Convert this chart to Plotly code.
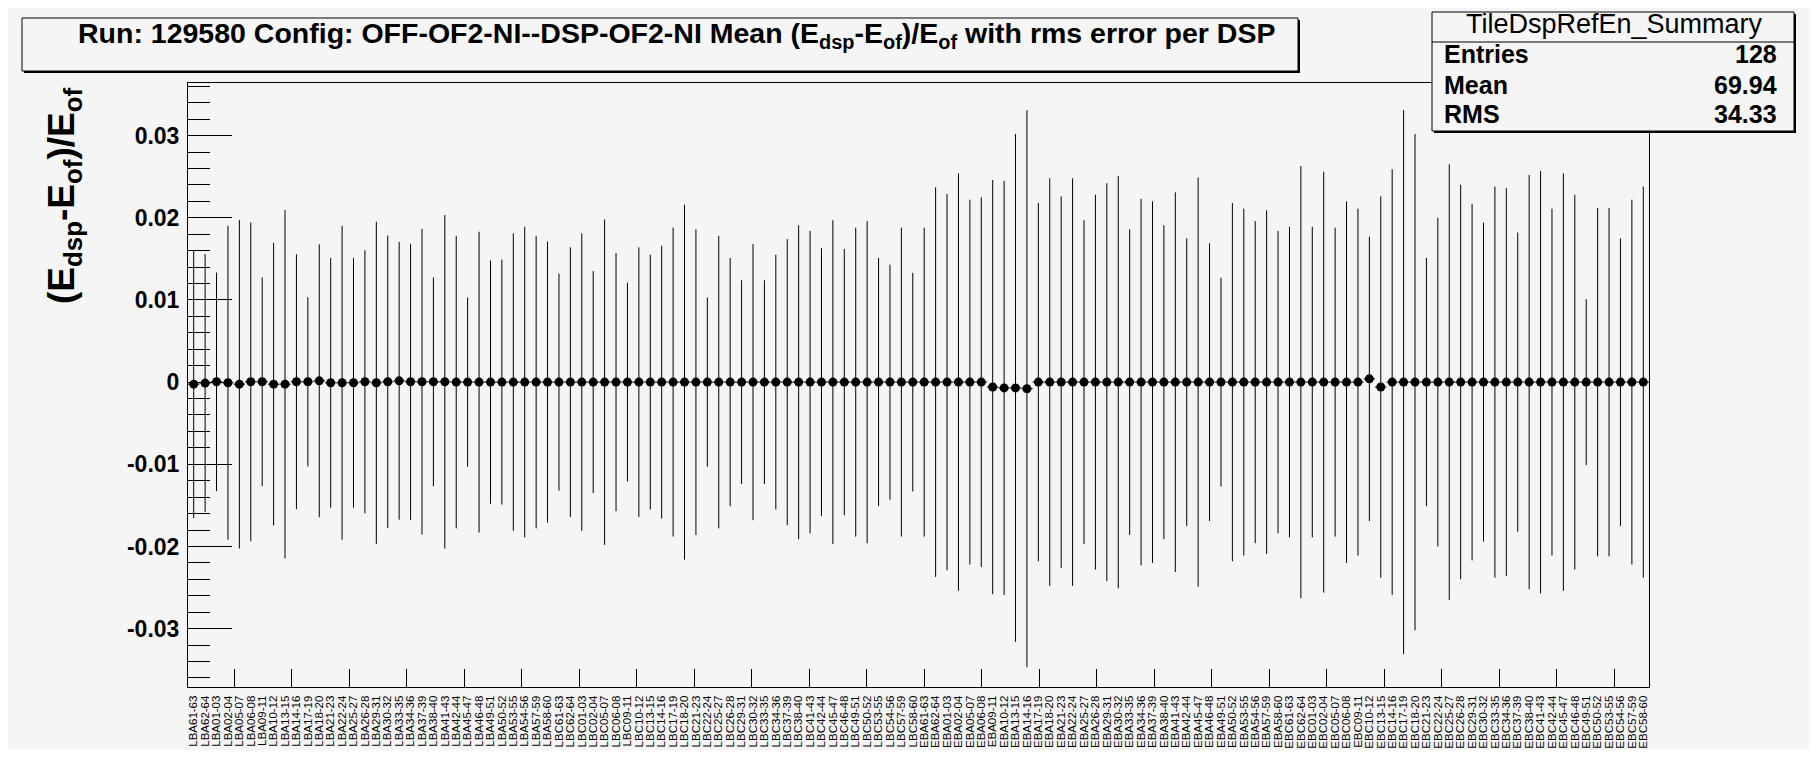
import plotly.graph_objects as go

# ---------------- data ----------------
partitions = ["LBA", "LBC", "EBA", "EBC"]
modules = ["61-63", "62-64", "01-03", "02-04", "05-07", "06-08", "09-11", "10-12",
           "13-15", "14-16", "17-19", "18-20", "21-23", "22-24", "25-27", "26-28",
           "29-31", "30-32", "33-35", "34-36", "37-39", "38-40", "41-43", "42-44",
           "45-47", "46-48", "49-51", "50-52", "53-55", "54-56", "57-59", "58-60"]
labels = [p + m for p in partitions for m in modules]

mean_vals = [
    -0.00025, -0.00012, 0.00004, -0.00008, -0.00025, 0.00004, 0.00004, -0.00025,
    -0.00025, 0.00004, 0.00004, 0.00016, -0.00008, -0.00008, -0.00008, 0.00004,
    -0.00008, 0.00004, 0.00016, 0.00004, 0.00004, 0.00004, 0.00004, 0.0,
    0.0, 0.0, 0.0, 0.0, 0.0, 0.0, 0.0, 0.0,
    0.0, 0.0, 0.0, 0.0, 0.0, 0.0, 0.0, 0.0,
    0.0, 0.0, 0.0, 0.0, 0.0, 0.0, 0.0, 0.0,
    0.0, 0.0, 0.0, 0.0, 0.0, 0.0, 0.0, 0.0,
    0.0, 0.0, 0.0, 0.0, 0.0, 0.0, 0.0, 0.0,
    0.0, 0.0, 0.0, 0.0, 0.0, 0.0, -0.0006, -0.0007,
    -0.0007, -0.0008, 0.0, 0.0, 0.0, 0.0, 0.0, 0.0,
    0.0, 0.0, 0.0, 0.0, 0.0, 0.0, 0.0, 0.0,
    0.0, 0.0, 0.0, 0.0, 0.0, 0.0, 0.0, 0.0,
    0.0, 0.0, 0.0, 0.0, 0.0, 0.0, 0.0, 0.0004,
    -0.0006, 0.0, 0.0, 0.0, 0.0, 0.0, 0.0, 0.0,
    0.0, 0.0, 0.0, 0.0, 0.0, 0.0, 0.0, 0.0,
    0.0, 0.0, 0.0, 0.0, 0.0, 0.0, 0.0, 0.0,
]

rms_vals = [
    0.0163, 0.0157, 0.0133, 0.0191, 0.0200, 0.0194, 0.0127, 0.0172,
    0.0212, 0.0155, 0.0103, 0.0166, 0.0152, 0.0191, 0.0152, 0.0160,
    0.0196, 0.0178, 0.0169, 0.0168, 0.0186, 0.0127, 0.0203, 0.0178,
    0.0103, 0.0183, 0.0148, 0.0149, 0.0181, 0.0189, 0.0178, 0.0171,
    0.0132, 0.0164, 0.0181, 0.0135, 0.0198, 0.0157, 0.0121, 0.0164,
    0.0155, 0.0166, 0.0188, 0.0216, 0.0186, 0.0103, 0.0178, 0.0151,
    0.0124, 0.0168, 0.0124, 0.0155, 0.0174, 0.0191, 0.0184, 0.0163,
    0.0197, 0.0162, 0.0188, 0.0196, 0.0151, 0.0143, 0.0188, 0.0133,
    0.0188, 0.0237, 0.0229, 0.0254, 0.0222, 0.0225, 0.0252, 0.0252,
    0.0309, 0.0339, 0.0218, 0.0248, 0.0226, 0.0248, 0.0197, 0.0228,
    0.0242, 0.0251, 0.0186, 0.0223, 0.0220, 0.0191, 0.0231, 0.0175,
    0.0249, 0.0169, 0.0127, 0.0218, 0.0211, 0.0196, 0.0209, 0.0184,
    0.0189, 0.0263, 0.0189, 0.0256, 0.0188, 0.0220, 0.0211, 0.0173,
    0.0232, 0.0259, 0.0331, 0.0302, 0.0151, 0.0200, 0.0265, 0.0240,
    0.0217, 0.0194, 0.0238, 0.0236, 0.0182, 0.0252, 0.0257, 0.0211,
    0.0254, 0.0228, 0.0101, 0.0212, 0.0212, 0.0175, 0.0222, 0.0238,
]

y_tickvals = [-0.03, -0.02, -0.01, 0.0, 0.01, 0.02, 0.03]
y_ticktext = ["-0.03", "-0.02", "-0.01", "0", "0.01", "0.02", "0.03"]
x_tickvals = [5, 10, 15, 20, 25, 30, 35, 40, 45, 50, 55, 60, 65, 70, 75,
              80, 85, 90, 95, 100, 105, 110, 115, 120, 125]

title_text = ("Run: 129580 Config: OFF-OF2-NI--DSP-OF2-NI Mean "
              "(E<sub>dsp</sub>-E<sub>of</sub>)/E<sub>of</sub> with rms error per DSP")
ytitle_text = "(E<sub>dsp</sub>-E<sub>of</sub>)/E<sub>of</sub>"
stats_title = "TileDspRefEn_Summary"
stats_names = ["Entries", "Mean", "RMS"]
stats_values = ["128", "69.94", "34.33"]

# ---------------- layout geometry (figure pixel coordinates) ----------------
W, H = 1802, 742
L, R, T, B = 180, 1641, 75, 679
BG = "#f5f5f5"
FONT = "Liberation Sans"


def px(xp):
    return (xp - L) / (R - L)


def py(yp):
    return (B - yp) / (B - T)


xcenters = [i + 0.5 for i in range(len(labels))]

fig = go.Figure()
fig.add_trace(go.Scatter(
    x=xcenters, y=mean_vals, mode="markers",
    marker=dict(color="black", size=9, symbol="circle"),
    error_y=dict(type="data", array=rms_vals, color="black", thickness=1, width=0),
    error_x=dict(type="constant", value=0.5, color="black", thickness=1, width=0),
    showlegend=False, hoverinfo="skip",
))
# invisible trace to hold the tick axis
fig.add_trace(go.Scatter(x=[1, 128], y=[0, 0], xaxis="x2", mode="markers",
                         marker=dict(opacity=0), showlegend=False, hoverinfo="skip"))

shapes = []
# title box with shadow
tb = (14, 10, 1290, 63)
shapes.append(dict(type="rect", xref="paper", yref="paper", x0=px(tb[0] + 2), x1=px(tb[2] + 2),
                   y0=py(tb[1] + 2), y1=py(tb[3] + 2), fillcolor="black", line=dict(width=0)))
shapes.append(dict(type="rect", xref="paper", yref="paper", x0=px(tb[0]), x1=px(tb[2]),
                   y0=py(tb[1]), y1=py(tb[3]), fillcolor=BG, line=dict(color="black", width=1)))
# stats box with shadow
sb = (1424, 4, 1786, 123)
shapes.append(dict(type="rect", xref="paper", yref="paper", x0=px(sb[0] + 2), x1=px(sb[2] + 2),
                   y0=py(sb[1] + 2), y1=py(sb[3] + 2), fillcolor="black", line=dict(width=0)))
shapes.append(dict(type="rect", xref="paper", yref="paper", x0=px(sb[0]), x1=px(sb[2]),
                   y0=py(sb[1]), y1=py(sb[3]), fillcolor=BG, line=dict(color="black", width=1)))
shapes.append(dict(type="line", xref="paper", yref="paper", x0=px(sb[0]), x1=px(sb[2]),
                   y0=py(34), y1=py(34), line=dict(color="black", width=1)))

annotations = []
annotations.append(dict(text="<b>" + title_text + "</b>", xref="paper", yref="paper",
                        x=px(668), y=py(27), xanchor="center", yanchor="middle",
                        showarrow=False, font=dict(family=FONT, size=28.5, color="black")))
annotations.append(dict(text="<b>" + ytitle_text + "</b>", xref="paper", yref="paper",
                        x=px(56), y=py(188), xanchor="center", yanchor="middle",
                        textangle=-90, showarrow=False,
                        font=dict(family=FONT, size=37, color="black")))
annotations.append(dict(text=stats_title, xref="paper", yref="paper",
                        x=px(1606), y=py(16), xanchor="center", yanchor="middle",
                        showarrow=False, font=dict(family=FONT, size=27, color="black")))
row_y = [46, 77, 106]
for name, val, yy in zip(stats_names, stats_values, row_y):
    annotations.append(dict(text="<b>" + name + "</b>", xref="paper", yref="paper",
                            x=px(1434), y=py(yy), xanchor="left", yanchor="middle",
                            showarrow=False, font=dict(family=FONT, size=25, color="black")))
    annotations.append(dict(text="<b>" + val + "</b>", xref="paper", yref="paper",
                            x=px(1771), y=py(yy), xanchor="right", yanchor="middle",
                            showarrow=False, font=dict(family=FONT, size=25, color="black")))

fig.update_layout(
    width=W, height=H,
    margin=dict(l=L, r=W - R, t=T, b=H - B, pad=0, autoexpand=False),
    paper_bgcolor=BG, plot_bgcolor=BG,
    shapes=shapes, annotations=annotations,
    xaxis=dict(range=[0, 128], tickmode="array", tickvals=xcenters, ticktext=labels,
               tickangle=-90, ticks="", showgrid=False, zeroline=False, automargin=False,
               showline=True, linecolor="black", linewidth=1, mirror=True,
               ticklabelstandoff=3,
               tickfont=dict(family=FONT, size=11.5, color="black")),
    xaxis2=dict(range=[1, 128], overlaying="x", anchor="y", side="bottom",
                tickmode="array", tickvals=x_tickvals, ticks="inside", ticklen=18,
                tickwidth=1, tickcolor="black", showticklabels=False, automargin=False,
                showgrid=False, zeroline=False, showline=False),
    yaxis=dict(range=[-0.0371, 0.0364], tickmode="array", tickvals=y_tickvals,
               ticktext=y_ticktext, ticks="inside", ticklen=44, tickwidth=1,
               tickcolor="black", showgrid=False, zeroline=False, automargin=False,
               showline=True, linecolor="black", linewidth=1, mirror=True,
               ticklabelstandoff=3,
               tickfont=dict(family=FONT, size=23, color="black", weight="bold"),
               minor=dict(dtick=0.002, tick0=0, ticks="inside", ticklen=22,
                          tickwidth=1, tickcolor="black", showgrid=False)),
)

fig.write_html("out.html")
